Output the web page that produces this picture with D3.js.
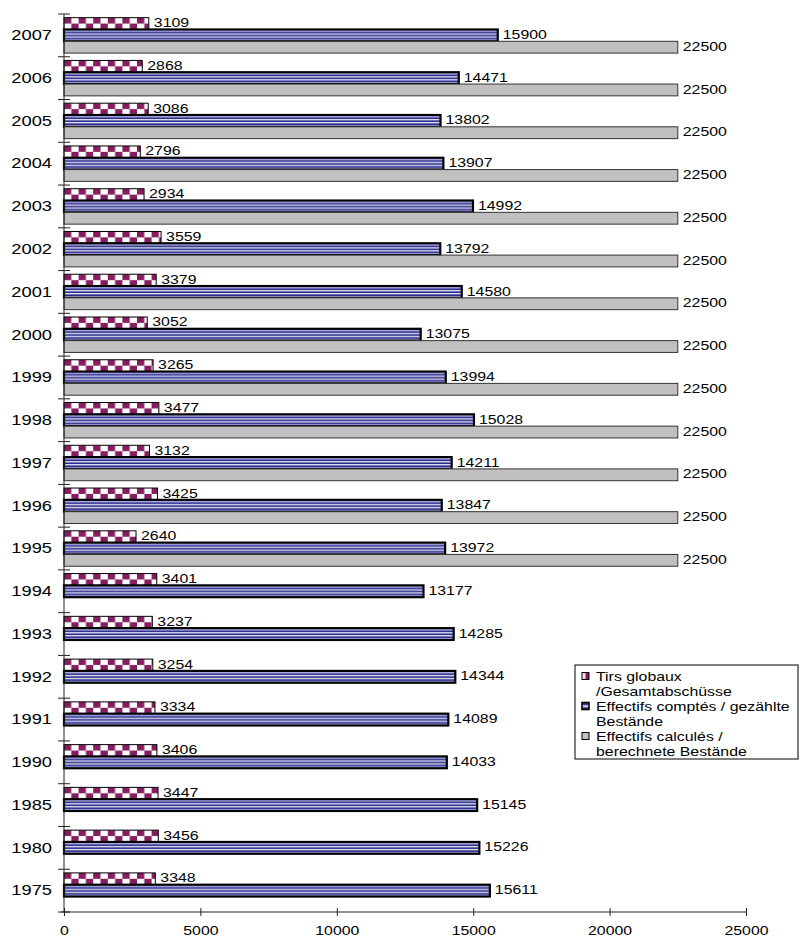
<!DOCTYPE html>
<html>
<head>
<meta charset="utf-8">
<script src="https://cdn.jsdelivr.net/npm/d3@7"></script>
<style>
  body { margin: 0; background: #ffffff; }
  text { font-family: "Liberation Sans", Arial, sans-serif; fill: #000; }
</style>
</head>
<body>
<div id="chart"></div>
<script>
const years = ["2007", "2006", "2005", "2004", "2003", "2002", "2001", "2000", "1999", "1998", "1997",
  "1996", "1995", "1994", "1993", "1992", "1991", "1990", "1985", "1980", "1975"];
const tirs = [3109, 2868, 3086, 2796, 2934, 3559, 3379, 3052, 3265, 3477, 3132,
  3425, 2640, 3401, 3237, 3254, 3334, 3406, 3447, 3456, 3348];
const comptes = [15900, 14471, 13802, 13907, 14992, 13792, 14580, 13075, 13994, 15028, 14211,
  13847, 13972, 13177, 14285, 14344, 14089, 14033, 15145, 15226, 15611];
const calcules = [22500, 22500, 22500, 22500, 22500, 22500, 22500, 22500, 22500, 22500, 22500,
  22500, 22500, null, null, null, null, null, null, null, null];
const series = ["tirs", "comptes", "calcules"];
const legendLines = [
  ["Tirs globaux", "/Gesamtabschüsse"],
  ["Effectifs comptés / gezählte", "Bestände"],
  ["Effectifs calculés /", "berechnete Bestände"]
];
const xTicks = [0, 5000, 10000, 15000, 20000, 25000];

window.onload = function () {
  const width = 799;
  const height = 938;
  const stretch = 1.22; // text in the picture is widened

  const svg = d3.select("#chart")
    .append("svg")
    .attr("width", width)
    .attr("height", height);

  const x = d3.scaleLinear().domain([0, 25000]).range([64, 746]);
  const y = d3.scaleBand().domain(years).range([14, 912]);
  const sub = d3.scaleBand().domain(series).range([0, y.step()]).paddingOuter(0.31);
  const bh = sub.bandwidth();

  const defs = svg.append("defs");

  // checker for "tirs", tiles once per band
  const pChk = defs.append("pattern")
    .attr("id", "chk")
    .attr("patternUnits", "userSpaceOnUse")
    .attr("x", x(0))
    .attr("y", y(years[0]) + sub("tirs"))
    .attr("width", 14.6)
    .attr("height", y.step());
  pChk.append("rect").attr("width", 14.6).attr("height", bh).attr("fill", "#ffffff");
  pChk.append("rect").attr("x", 0).attr("y", 0).attr("width", 7.3).attr("height", bh / 2).attr("fill", "#861d60");
  pChk.append("rect").attr("x", 7.3).attr("y", bh / 2).attr("width", 7.3).attr("height", bh / 2).attr("fill", "#861d60");

  // stripes for "comptes"
  const pStr = defs.append("pattern")
    .attr("id", "str")
    .attr("patternUnits", "userSpaceOnUse")
    .attr("x", 0)
    .attr("y", y(years[0]) + sub("comptes"))
    .attr("width", 10)
    .attr("height", y.step());
  pStr.append("rect").attr("width", 10).attr("height", bh).attr("fill", "#ffffff");
  [[0, 0.2, "#b0b0ea"], [0.2, 0.35, "#2a2a8e"], [0.45, 0.6, "#2a2a8e"], [0.7, 0.85, "#2a2a8e"], [0.85, 1, "#b0b0ea"]]
    .forEach(s => pStr.append("rect").attr("y", s[0] * bh).attr("width", 10)
      .attr("height", (s[1] - s[0]) * bh).attr("fill", s[2]));

  // legend swatch patterns
  const sChk = defs.append("pattern").attr("id", "schk")
    .attr("patternUnits", "objectBoundingBox").attr("patternContentUnits", "objectBoundingBox")
    .attr("width", 1).attr("height", 1);
  sChk.append("rect").attr("width", 1).attr("height", 1).attr("fill", "#861d60");
  sChk.append("rect").attr("width", 0.5).attr("height", 1).attr("fill", "#f4dcea");
  const sStr = defs.append("pattern").attr("id", "sstr")
    .attr("patternUnits", "objectBoundingBox").attr("patternContentUnits", "objectBoundingBox")
    .attr("width", 1).attr("height", 1);
  sStr.append("rect").attr("width", 1).attr("height", 1).attr("fill", "#2a2a8e");
  sStr.append("rect").attr("y", 0.4).attr("width", 1).attr("height", 0.25).attr("fill", "#ffffff");

  const rows = years.map((d, i) => ({ year: d, tirs: tirs[i], comptes: comptes[i], calcules: calcules[i] }));

  const styles = {
    tirs: { fill: "url(#chk)", stroke: "#000", sw: 1 },
    comptes: { fill: "url(#str)", stroke: "#000", sw: 2.2 },
    calcules: { fill: "#c0c0c0", stroke: "#333", sw: 1 }
  };

  const bars = [];
  rows.forEach(r => series.forEach(s => {
    if (r[s] != null) bars.push({ year: r.year, key: s, value: r[s] });
  }));

  svg.append("g").selectAll("rect")
    .data(bars)
    .enter()
    .append("rect")
    .attr("x", x(0))
    .attr("y", d => y(d.year) + sub(d.key))
    .attr("width", d => x(d.value) - x(0))
    .attr("height", bh)
    .attr("fill", d => styles[d.key].fill)
    .attr("stroke", d => styles[d.key].stroke)
    .attr("stroke-width", d => styles[d.key].sw);

  svg.append("g").selectAll("text")
    .data(bars)
    .enter()
    .append("text")
    .attr("transform", d => `translate(${x(d.value) + 5},${y(d.year) + sub(d.key) + bh / 2 - 1}) scale(${stretch},1)`)
    .attr("dy", "0.35em")
    .style("font-size", "13px")
    .text(d => d.value);

  // y axis: year labels
  const yAxis = svg.append("g")
    .attr("transform", `translate(${x(0)},0)`)
    .call(d3.axisLeft(y).tickSize(0).tickPadding(0));
  yAxis.select(".domain").remove();
  yAxis.selectAll("text")
    .attr("x", 0)
    .attr("transform", `translate(-12,0) scale(${stretch},1)`)
    .style("font-size", "15px")
    .style("font-family", "Liberation Sans, Arial, sans-serif");

  // category boundary ticks crossing the axis
  const bounds = years.map(d => y(d)).concat([y.range()[1]]);
  svg.append("g").selectAll("line")
    .data(bounds)
    .enter()
    .append("line")
    .attr("x1", x(0) - 6).attr("x2", x(0) + 6)
    .attr("y1", d => d).attr("y2", d => d)
    .attr("stroke", "#222");
  svg.append("line")
    .attr("x1", x(0)).attr("x2", x(0))
    .attr("y1", y.range()[0]).attr("y2", y.range()[1])
    .attr("stroke", "#222");

  // x axis
  const xAxis = svg.append("g")
    .attr("transform", `translate(0,${y.range()[1]})`)
    .call(d3.axisBottom(x).tickValues(xTicks).tickFormat(d3.format("d")).tickSize(4).tickPadding(10));
  xAxis.select(".domain").attr("stroke", "#222").attr("d", `M${x(0) - 3},0H${x(25000)}`);
  xAxis.selectAll(".tick line").attr("y1", -4).attr("y2", 4).attr("stroke", "#222");
  xAxis.selectAll("text")
    .attr("transform", `scale(${stretch},1)`)
    .style("font-size", "13px")
    .style("font-family", "Liberation Sans, Arial, sans-serif");

  // legend
  const lg = svg.append("g").attr("transform", "translate(575,665)");
  lg.append("rect")
    .attr("width", 223).attr("height", 94)
    .attr("fill", "#fff").attr("stroke", "#000");
  const swatch = ["url(#schk)", "url(#sstr)", "#c0c0c0"];
  legendLines.forEach((lines, i) => {
    const cy = 11 + i * 30;
    lg.append("rect")
      .attr("x", 7).attr("y", cy - 3.5)
      .attr("width", 7).attr("height", 7)
      .attr("fill", swatch[i])
      .attr("stroke", "#000")
      .attr("stroke-width", i === 1 ? 1.6 : 1);
    lines.forEach((t, j) => {
      lg.append("text")
        .attr("transform", `translate(21,${cy + j * 15}) scale(${stretch},1)`)
        .attr("dy", "0.35em")
        .style("font-size", "13px")
        .text(t);
    });
  });
}
</script>
</body>
</html>
